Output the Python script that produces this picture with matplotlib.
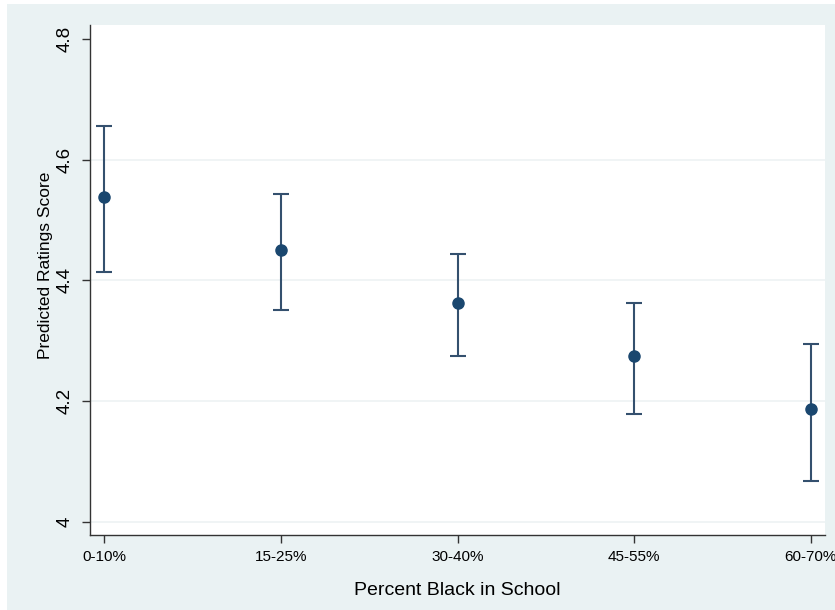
import numpy as np
import matplotlib.pyplot as plt
from matplotlib.patches import Rectangle

plt.rcParams['font.family'] = ['Liberation Sans', 'DejaVu Sans']

# --- Daten ---
categories = ['0-10%', '15-25%', '30-40%', '45-55%', '60-70%']
predicted = [4.538, 4.450, 4.363, 4.274, 4.186]
ci_upper = [4.656, 4.543, 4.443, 4.362, 4.295]
ci_lower = [4.413, 4.350, 4.274, 4.178, 4.068]
y_ticks = [4.0, 4.2, 4.4, 4.6, 4.8]
y_tick_labels = ['4', '4.2', '4.4', '4.6', '4.8']

bg = '#EAF2F3'
navy = '#1A476F'
bar_col = '#34506E'

fig = plt.figure(figsize=(8.35, 6.10), dpi=100, facecolor='white')
# Stata-Hintergrund (leicht versetzt wie im Original)
fig.patches.append(Rectangle((7/835, 0), 1 - 7/835, 1 - 4/610,
                             transform=fig.transFigure, facecolor=bg,
                             edgecolor='none', zorder=-10))

ax = fig.add_axes([90/835, 75/610, 735/835, 510/610])
ax.set_facecolor('white')

x = np.arange(len(categories))
pred = np.array(predicted)
yerr = [pred - np.array(ci_lower), np.array(ci_upper) - pred]

ax.errorbar(x, pred, yerr=yerr, fmt='none', ecolor=bar_col, elinewidth=1.5,
            capsize=5.5, capthick=1.5, zorder=3)
ax.plot(x, pred, 'o', color=navy, markersize=8, zorder=4)

ax.set_xlim(-0.08, 4.08)
ax.set_ylim(3.978, 4.823)

for yv in y_ticks[:-1]:
    ax.axhline(yv, color='#EEF2F3', linewidth=1.2, zorder=1)

ax.set_xticks(x)
ax.set_xticklabels(categories, fontsize=11)
ax.set_yticks(y_ticks)
ax.set_yticklabels(y_tick_labels, fontsize=13.5, rotation=90, va='center')

for s in ['top', 'right']:
    ax.spines[s].set_visible(False)
for s in ['left', 'bottom']:
    ax.spines[s].set_color('#333333')
    ax.spines[s].set_linewidth(1.0)
ax.tick_params(axis='both', direction='out', length=6, width=1.0,
               color='#333333', labelcolor='black')
ax.tick_params(axis='x', pad=5)
ax.tick_params(axis='y', pad=6)

ax.set_xlabel('Percent Black in School', fontsize=14, labelpad=13)
ax.set_ylabel('Predicted Ratings Score', fontsize=12.5)
ax.yaxis.set_label_coords(-0.050, 0.529)

fig.savefig('out.png', dpi=100, facecolor=fig.get_facecolor())
